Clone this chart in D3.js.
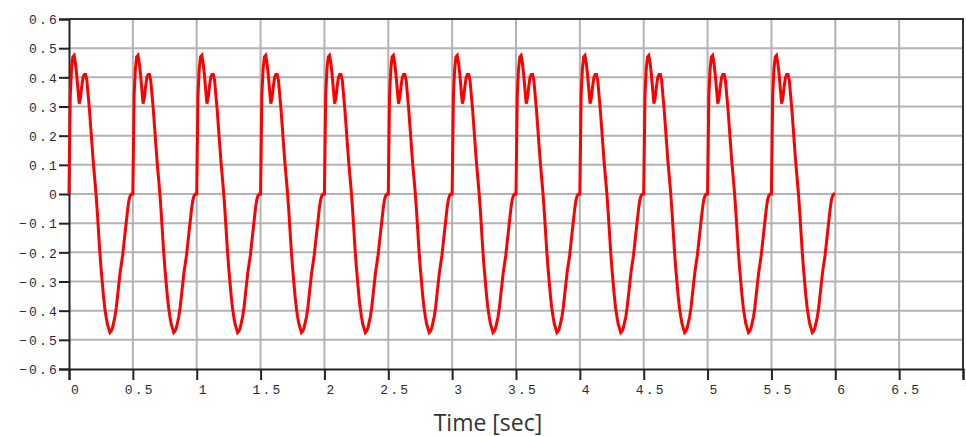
<!DOCTYPE html>
<html>
<head>
<meta charset="utf-8">
<script src="https://cdn.jsdelivr.net/npm/d3@7"></script>
<style>
  body { margin: 0; background: #fff; }
  svg { display: block; }
</style>
</head>
<body>
<div class="chart"></div>
<script>
/* tick labels */
const xTicks = [0, 0.5, 1, 1.5, 2, 2.5, 3, 3.5, 4, 4.5, 5, 5.5, 6, 6.5, 7];
const yTicks = [0.6, 0.5, 0.4, 0.3, 0.2, 0.1, 0, -0.1, -0.2, -0.3, -0.4, -0.5, -0.6];

/* one period of the signal (0.5 s), 0.01 s apart */
const cycleOffsets = [0, 0.01, 0.02, 0.03, 0.04, 0.05, 0.06, 0.07, 0.08, 0.09,
  0.10, 0.11, 0.12, 0.13, 0.14, 0.15, 0.16, 0.17, 0.18, 0.19,
  0.20, 0.21, 0.22, 0.23, 0.24, 0.25, 0.26, 0.27, 0.28, 0.29,
  0.30, 0.31, 0.32, 0.33, 0.34, 0.35, 0.36, 0.37, 0.38, 0.39,
  0.40, 0.41, 0.42, 0.43, 0.44, 0.45, 0.46, 0.47, 0.48, 0.49];
const cycleValues = [0, 0.34, 0.43, 0.47, 0.475, 0.45, 0.41, 0.36, 0.31, 0.33,
  0.37, 0.40, 0.41, 0.41, 0.39, 0.34, 0.29, 0.23, 0.17, 0.11,
  0.06, 0.01, -0.05, -0.12, -0.19, -0.25, -0.30, -0.35, -0.39, -0.42,
  -0.445, -0.46, -0.475, -0.47, -0.46, -0.44, -0.42, -0.39, -0.35, -0.31,
  -0.27, -0.24, -0.21, -0.17, -0.13, -0.09, -0.05, -0.02, -0.005, 0];
/* the period repeats 12 times */
const cycleStarts = [0, 0.5, 1, 1.5, 2, 2.5, 3, 3.5, 4, 4.5, 5, 5.5];
const endPoint = {t: 6, v: 0};

const series = [];
cycleStarts.forEach(s => {
  cycleOffsets.forEach((o, i) => series.push({t: s + o, v: cycleValues[i]}));
});
series.push(endPoint);

/* svg */
const width = 966;
const height = 436;
const margin = {top: 19, right: 3, bottom: 67, left: 69};

const svg = d3.select(".chart").append("svg")
  .attr("width", width)
  .attr("height", height)
  .attr("viewBox", [0, 0, width, height]);

const x = d3.scaleLinear().domain([0, 7]).range([margin.left, width - margin.right]);
const y = d3.scaleLinear().domain([-0.6, 0.6]).range([height - margin.bottom, margin.top]);

const fmt = d => (d < 0 ? "\u2212" : "") + Math.abs(d);

/* grid */
svg.append("g")
  .selectAll("line.vgrid")
  .data(xTicks.slice(1, -1))
  .join("line")
  .attr("x1", d => x(d)).attr("x2", d => x(d))
  .attr("y1", y(0.6)).attr("y2", y(-0.6))
  .attr("stroke", "#b3b3b3")
  .attr("stroke-width", 2);

svg.append("g")
  .selectAll("line.hgrid")
  .data(yTicks.slice(1, -1))
  .join("line")
  .attr("x1", x(0)).attr("x2", x(7))
  .attr("y1", d => y(d)).attr("y2", d => y(d))
  .attr("stroke", "#b3b3b3")
  .attr("stroke-width", 2);

/* frame: top and right */
svg.append("path")
  .attr("d", `M${x(0)},${y(0.6)}H${x(7)}V${y(-0.6)}`)
  .attr("fill", "none")
  .attr("stroke", "#333")
  .attr("stroke-width", 2);

/* y axis */
const yAxis = svg.append("g")
  .attr("transform", `translate(${x(0)},0)`)
  .call(d3.axisLeft(y).tickValues(yTicks).tickSize(10).tickFormat(fmt));
yAxis.select(".domain").attr("stroke", "#222").attr("stroke-width", 2);
yAxis.selectAll(".tick line").attr("stroke", "#222").attr("stroke-width", 2);
yAxis.selectAll(".tick text")
  .attr("x", -10)
  .attr("dy", "0.36em")
  .style("font-family", "'Liberation Mono', 'DejaVu Sans Mono', monospace")
  .style("font-size", "13px")
  .style("letter-spacing", "2.2px")
  .attr("fill", "#2a2a3a");

/* x axis */
const xAxis = svg.append("g")
  .attr("transform", `translate(0,${y(-0.6)})`)
  .call(d3.axisBottom(x).tickValues(xTicks).tickSize(11).tickFormat(d => String(d)));
xAxis.select(".domain").attr("stroke", "#222").attr("stroke-width", 2);
xAxis.selectAll(".tick line").attr("stroke", "#222").attr("stroke-width", 2);
xAxis.selectAll(".tick text")
  .attr("x", 6.5)
  .attr("y", 16)
  .attr("dy", "0.71em")
  .style("font-family", "'Liberation Mono', 'DejaVu Sans Mono', monospace")
  .style("font-size", "13px")
  .style("letter-spacing", "2.2px")
  .attr("fill", "#2a2a3a");

/* signal */
const line = d3.line()
  .x(d => x(d.t))
  .y(d => y(d.v));

svg.append("path")
  .datum(series)
  .attr("d", line)
  .attr("fill", "none")
  .attr("stroke", "#ff0000")
  .attr("stroke-width", 3);

/* axis title */
svg.append("text")
  .attr("x", 488)
  .attr("y", 431)
  .attr("text-anchor", "middle")
  .style("font-family", "'Open Sans', 'Noto Sans', sans-serif")
  .style("font-size", "23px")
  .attr("fill", "#333")
  .text("Time [sec]");
</script>
</body>
</html>
